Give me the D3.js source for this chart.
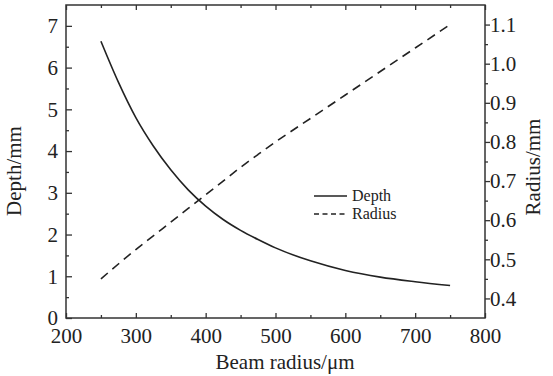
<!DOCTYPE html>
<html>
<head>
<meta charset="utf-8">
<script src="https://cdn.jsdelivr.net/npm/d3@7"></script>
<style>
  html, body { margin: 0; padding: 0; background: #fff; }
  svg text { font-family: "Liberation Serif", "Times New Roman", serif; fill: #222; }
</style>
</head>
<body>
<div id="chart"></div>
<script>
// data
const beamRadius = [250, 275, 300, 325, 350, 375, 400, 425, 450, 475, 500, 550, 600, 650, 700, 750];
const depth      = [6.63, 5.65, 4.80, 4.12, 3.55, 3.07, 2.68, 2.36, 2.10, 1.88, 1.68, 1.37, 1.14, 0.98, 0.87, 0.78];
const radius     = [0.45, 0.488, 0.525, 0.56, 0.595, 0.63, 0.665, 0.70, 0.735, 0.768, 0.80, 0.86, 0.92, 0.98, 1.04, 1.10];

const xTicks = [200, 300, 400, 500, 600, 700, 800];
const depthTicks = [0, 1, 2, 3, 4, 5, 6, 7];
const radiusTicks = [0.4, 0.5, 0.6, 0.7, 0.8, 0.9, 1.0, 1.1];
const legendLabels = ["Depth", "Radius"];

// chart dimensions
const width = 553, height = 376;
const plot = { left: 66, right: 485, top: 5, bottom: 318 };
const ink = "#222";

const svg = d3.select("#chart")
  .append("svg")
  .attr("width", width)
  .attr("height", height);

// scales
const xScale = d3.scaleLinear().domain([200, 800]).range([plot.left, plot.right]);
const yLeft = d3.scaleLinear().domain([0, 7.5]).range([plot.bottom, plot.top]);
const yRight = d3.scaleLinear().domain([0.35, 1.15]).range([plot.bottom, plot.top]);

// lines
const depthLine = d3.line()
  .x((d, i) => xScale(beamRadius[i]))
  .y(d => yLeft(d))
  .curve(d3.curveMonotoneX);

const radiusLine = d3.line()
  .x((d, i) => xScale(beamRadius[i]))
  .y(d => yRight(d))
  .curve(d3.curveMonotoneX);

svg.append("path")
  .datum(depth)
  .attr("d", depthLine)
  .attr("fill", "none")
  .attr("stroke", ink)
  .attr("stroke-width", 1.6);

svg.append("path")
  .datum(radius)
  .attr("d", radiusLine)
  .attr("fill", "none")
  .attr("stroke", ink)
  .attr("stroke-width", 1.6)
  .attr("stroke-dasharray", "9,6");

// axes
function styleAxis(g) {
  g.select(".domain").remove();
  g.selectAll(".tick line").attr("stroke", "#333").attr("stroke-width", 1.3);
  g.selectAll(".tick text")
    .attr("font-size", "21px")
    .attr("font-family", "Liberation Serif, Times New Roman, serif")
    .attr("fill", ink);
}

const minorX = d3.range(250, 800, 100);
const minorLeft = d3.range(0.5, 7.5, 1);
const minorRight = d3.range(0.45, 1.15, 0.1);

// bottom
svg.append("g")
  .attr("transform", `translate(0, ${plot.bottom})`)
  .call(d3.axisBottom(xScale).tickValues(xTicks).tickSizeInner(-5).tickSizeOuter(0).tickPadding(8))
  .call(styleAxis)
  .call(g => g.selectAll(".tick text").attr("dy", "0.8em"));
svg.append("g")
  .attr("transform", `translate(0, ${plot.bottom})`)
  .call(d3.axisBottom(xScale).tickValues(minorX).tickSize(-3).tickFormat(""))
  .call(styleAxis);

// top (ticks only)
svg.append("g")
  .attr("transform", `translate(0, ${plot.top})`)
  .call(d3.axisTop(xScale).tickValues(xTicks).tickSize(-5).tickFormat(""))
  .call(styleAxis);
svg.append("g")
  .attr("transform", `translate(0, ${plot.top})`)
  .call(d3.axisTop(xScale).tickValues(minorX).tickSize(-3).tickFormat(""))
  .call(styleAxis);

// left
svg.append("g")
  .attr("transform", `translate(${plot.left}, 0)`)
  .call(d3.axisLeft(yLeft).tickValues(depthTicks).tickSizeInner(-6).tickSizeOuter(0).tickPadding(8).tickFormat(d3.format("d")))
  .call(styleAxis);
svg.append("g")
  .attr("transform", `translate(${plot.left}, 0)`)
  .call(d3.axisLeft(yLeft).tickValues(minorLeft).tickSize(-3).tickFormat(""))
  .call(styleAxis);

// right
svg.append("g")
  .attr("transform", `translate(${plot.right}, 0)`)
  .call(d3.axisRight(yRight).tickValues(radiusTicks).tickSizeInner(5).tickSizeOuter(0).tickPadding(0).tickFormat(d3.format(".1f")))
  .call(styleAxis);
svg.append("g")
  .attr("transform", `translate(${plot.right}, 0)`)
  .call(d3.axisRight(yRight).tickValues(minorRight).tickSize(3).tickFormat(""))
  .call(styleAxis);

// frame
svg.append("rect")
  .attr("x", plot.left)
  .attr("y", plot.top)
  .attr("width", plot.right - plot.left)
  .attr("height", plot.bottom - plot.top)
  .attr("fill", "none")
  .attr("stroke", "#333")
  .attr("stroke-width", 1.5);

// axis titles
svg.append("text")
  .attr("x", 285)
  .attr("y", 369)
  .attr("text-anchor", "middle")
  .attr("font-size", "21px")
  .text("Beam radius/μm");

svg.append("text")
  .attr("transform", "translate(21, 171) rotate(-90)")
  .attr("text-anchor", "middle")
  .attr("font-size", "21px")
  .text("Depth/mm");

svg.append("text")
  .attr("transform", "translate(540, 167) rotate(-90)")
  .attr("text-anchor", "middle")
  .attr("font-size", "21px")
  .text("Radius/mm");

// legend
const legend = svg.append("g").attr("transform", "translate(314, 196)");
legendLabels.forEach((label, i) => {
  const row = legend.append("g").attr("transform", `translate(0, ${i * 18})`);
  row.append("line")
    .attr("x1", 0).attr("x2", 33)
    .attr("stroke", ink)
    .attr("stroke-width", 1.4)
    .attr("stroke-dasharray", i === 0 ? null : "5,3.5");
  row.append("text")
    .attr("x", 38)
    .attr("y", 5)
    .attr("font-size", "16px")
    .text(label);
});
</script>
</body>
</html>
